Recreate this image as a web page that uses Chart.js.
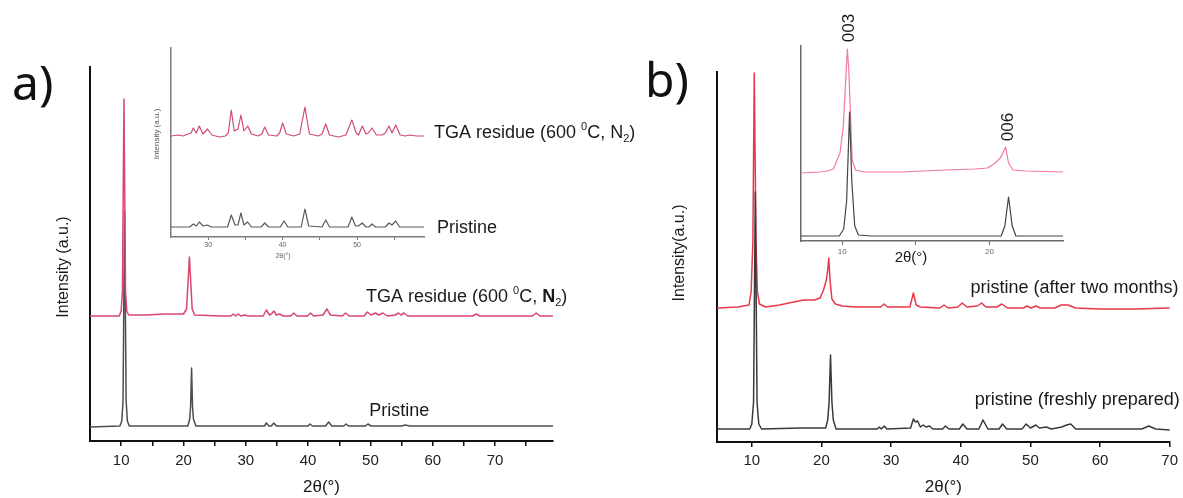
<!DOCTYPE html>
<html><head><meta charset="utf-8">
<script src="https://cdn.jsdelivr.net/npm/chart.js@4.4.1/dist/chart.umd.min.js"></script>
<style>
html,body{margin:0;padding:0;background:#fff;}
#wrap{position:relative;width:1183px;height:498px;overflow:hidden;background:#fff;}
canvas{position:absolute;left:0;top:0;}
</style></head><body>
<div id="wrap">
<canvas id="mainA" width="1183" height="498"></canvas>
<canvas id="mainB" width="1183" height="498"></canvas>
<canvas id="insetA" width="1183" height="498"></canvas>
<canvas id="insetB" width="1183" height="498"></canvas>
</div>
<script>
// ---------------- DATA (2θ in degrees, intensity in a.u., traces already offset) ----------------
// Panel a, main: TGA residue (red) and pristine (black)
const aTga = [[5,125],[9.7,125],[10.0,130],[10.2,150],[10.45,342],[10.7,150],[10.9,130],[11.2,126],[14,126],[17,127],[20,127],[20.5,132],[20.95,184],[21.4,132],[21.8,126],[26,125],[27.6,125],[28.0,127],[28.4,125],[28.8,127],[29.2,125],[29.8,126],[30.4,125],[32.8,125],[33.3,131],[33.8,126],[34.1,127],[34.5,130],[34.9,126],[35.4,127],[36,125],[37.2,125],[37.7,128],[38.2,125],[39.9,125],[40.4,128],[40.9,125],[42.4,126],[43.0,132],[43.6,126],[45.5,125],[46.0,128],[46.6,125],[49.0,125],[49.5,129],[50.1,126],[50.8,128],[51.3,126],[52.0,128],[52.7,125],[54.0,126],[54.5,128],[54.9,126],[55.4,128],[56.0,125],[60,125],[66.4,125],[67.0,127],[67.6,125],[76.0,125],[76.6,128],[77.2,125],[79.3,125]];
const aPristine = [[5,14],[9.8,15],[10.1,20],[10.3,40],[10.55,230],[10.8,40],[11.0,20],[11.3,15],[20.7,15],[21.0,22],[21.15,35],[21.3,73],[21.45,35],[21.6,22],[22,15],[29,15],[33,15],[33.3,18],[33.7,15],[34.1,15],[34.5,18],[34.9,15],[40,15],[40.3,17],[40.7,15],[42.8,15],[43.3,19],[43.8,15],[45.7,15],[46.1,17],[46.5,15],[49.2,15],[49.6,17],[50.1,15],[55,15],[55.6,16],[56.3,15],[79.3,15]];
const aTicks = [10,15,20,25,30,35,40,45,50,55,60,65,70,75];
const aTickLabels = [10,20,30,40,50,60,70];

// Panel a, inset (25-59°)
const iaTga = [[25,101],[26,102],[26.6,101],[27.3,103],[27.7,104],[28.0,109],[28.4,104],[28.8,111],[29.3,103],[29.9,108],[30.5,102],[31.5,100],[32.3,101],[32.7,104],[33.1,127],[33.5,106],[34.0,108],[34.4,122],[34.8,106],[35.3,111],[35.8,103],[36.7,101],[37.2,103],[37.6,110],[38.1,102],[39.2,101],[39.6,104],[40.0,114],[40.5,103],[41.5,101],[42.3,103],[43.0,130],[43.6,103],[44.8,101],[45.3,103],[45.8,113],[46.3,102],[47.5,100],[48.5,102],[49.3,117],[49.9,104],[50.2,102],[50.7,111],[51.2,103],[51.5,104],[52.0,109],[52.6,102],[53.4,102],[53.8,104],[54.3,111],[54.7,104],[55.2,112],[55.8,102],[56.5,101],[57,102],[58,101],[59,101]];
const iaPristine = [[25,10],[27.5,10],[28.0,13],[28.4,11],[28.8,15],[29.3,11],[29.9,12],[30.4,10],[32.6,10],[33.1,22],[33.6,12],[34.0,12],[34.4,24],[34.8,12],[35.3,15],[35.8,10],[37.1,10],[37.6,14],[38.1,10],[39.7,10],[40.2,16],[40.7,10],[42.5,10],[43.0,28],[43.5,11],[45.3,10],[45.8,17],[46.3,10],[48.8,10],[49.3,20],[49.8,11],[50.2,11],[50.7,14],[51.2,10],[51.6,10],[52.0,13],[52.5,10],[53.8,10],[54.3,14],[54.7,12],[55.2,16],[55.7,10],[59,10]];
const iaTicks = [30,35,40,45,50,55];
const iaTickLabels = [30,40,50];

// Panel b, main: after two months (red) and freshly prepared (black)
const bAged = [[5,134],[8,135],[9.6,137],[9.9,150],[10.15,200],[10.35,369],[10.6,200],[10.8,150],[11.1,138],[12,135],[14,137],[16,140],[17.5,142],[19,142],[19.8,144],[20.3,152],[20.7,162],[20.9,172],[21.05,184],[21.25,160],[21.5,143],[22,138],[23,136],[25,135],[28.5,135],[29,138],[29.5,135],[32.7,135],[33.2,149],[33.6,137],[34.2,135],[37,134],[37.6,137],[38.2,134],[39.6,135],[40.2,139],[40.9,135],[42.4,136],[43,139],[43.6,135],[45.2,135],[45.9,138],[46.7,134],[49,134],[49.5,136],[50.1,134],[50.8,136],[51.4,134],[53.5,134],[54.4,137],[55.4,137],[56.5,134],[60,133],[65,133],[70,134]];
const bFresh = [[5,13],[9.7,13],[10.0,18],[10.25,40],[10.5,250],[10.75,40],[11.0,18],[11.4,13],[17,14],[20.6,14],[20.9,22],[21.1,40],[21.3,87],[21.5,40],[21.7,22],[22.1,13],[28,13],[28.3,15],[28.6,13],[29,16],[29.4,13],[32.8,14],[33.2,23],[33.5,20],[33.8,21],[34.2,15],[34.6,17],[35,15],[35.5,16],[36,13],[37.4,13],[37.8,16],[38.3,13],[39.8,13],[40.3,18],[40.9,13],[42.6,13],[43.2,22],[43.9,13],[45.5,13],[46,18],[46.6,13],[48.8,13],[49.4,18],[50,14],[50.8,17],[51.3,14],[52.3,15],[53,13],[54.5,15],[55.2,17],[55.8,18],[56.5,13],[60,13],[66,13],[67,16],[68,13],[70,12]];
const bTicks = [10,20,30,40,50,60,70];
const bTickLabels = [10,20,30,40,50,60,70];

// Panel b, inset (003 and 006 reflections)
const ibAged = [[7.2,68],[8.5,69],[9.0,70],[9.4,72],[9.85,88],[10.07,114],[10.35,192],[10.45,170],[10.68,81],[10.9,71],[11.5,69],[14,69],[17,71],[19,72],[19.86,73],[20.3,77],[20.75,83],[21.1,94],[21.3,78],[21.6,71],[22.5,70],[25,69]];
const ibFresh = [[7.2,5],[9.8,5],[10.1,12],[10.3,40],[10.5,129],[10.65,60],[10.85,15],[11.1,6],[12,5],[20.8,5],[21.05,15],[21.3,44],[21.55,15],[21.8,5],[25,5]];
const ibTicks = [10,15,20];
const ibTickLabels = [10,20];

// ---------------- RENDERING ----------------
const FONT = "'Liberation Sans', Arial, Helvetica, sans-serif";
const W = 1183, H = 498;
const TGA_PARTS = [{t:'TGA residue (600 '},{t:'0',sup:true},{t:'C, '},{t:'N'},{t:'2',sub:true},{t:')'}];
const TGA_PARTS_MAIN = [{t:'TGA residue (600 '},{t:'0',sup:true},{t:'C, '},{t:'N',bold:true},{t:'2',sub:true},{t:')'}];

function toXY(pairs){ return pairs.map(p => ({x:p[0], y:p[1]})); }
function partFont(p, size, family){
  const s = (p.sup || p.sub) ? Math.round(size*0.62) : size;
  return (p.bold ? 'bold ' : '') + s + 'px ' + (family || FONT);
}
function drawRich(ctx, it){
  const size = it.size || 16;
  const parts = it.parts || [{t: it.text}];
  const widths = parts.map(p => { ctx.font = partFont(p, size, it.family); return ctx.measureText(p.t).width; });
  const total = widths.reduce((a,b)=>a+b, 0);
  let x = it.align === 'center' ? -total/2 : (it.align === 'right' ? -total : 0);
  ctx.fillStyle = it.color || '#1a1a1a';
  ctx.textBaseline = it.baseline || 'middle';
  ctx.textAlign = 'left';
  parts.forEach((p, i) => {
    ctx.font = partFont(p, size, it.family);
    const dy = p.sup ? -0.36*size : (p.sub ? 0.34*size : 0);
    ctx.fillText(p.t, x, dy);
    x += widths[i];
  });
}
function notesPlugin(items){
  return {
    id: 'notes',
    afterDraw(chart){
      const ctx = chart.ctx, xs = chart.scales.x, ys = chart.scales.y;
      items.forEach(it => {
        const px = it.dx !== undefined ? xs.getPixelForValue(it.dx) : it.px;
        const py = it.dy !== undefined ? ys.getPixelForValue(it.dy) : it.py;
        ctx.save();
        ctx.translate(px, py);
        if (it.rot) ctx.rotate(it.rot*Math.PI/180);
        drawRich(ctx, it);
        ctx.restore();
      });
    }
  };
}

function makeChart(id, c){
  return new Chart(document.getElementById(id), {
    type: 'line',
    data: { datasets: c.series.map(s => ({
      label: s.label, data: toXY(s.data), borderColor: s.color, borderWidth: s.width,
      pointRadius: 0, pointHoverRadius: 0, tension: 0, fill: false,
      borderJoinStyle: 'round', borderCapStyle: 'round'
    }))},
    options: {
      responsive: false, animation: false, devicePixelRatio: 1,
      events: [],
      layout: { padding: { left: c.area.left, top: c.area.top, right: W - c.area.right, bottom: 0 } },
      plugins: { legend: {display: false}, tooltip: {enabled: false} },
      scales: {
        x: {
          type: 'linear', min: c.xmin, max: c.xmax,
          afterBuildTicks: s => { s.ticks = c.ticks.map(v => ({value: v})); },
          afterFit: s => { s.height = H - c.area.bottom; },
          ticks: {
            autoSkip: false, maxRotation: 0, minRotation: 0,
            callback: v => c.tickLabels.includes(v) ? String(v) : '',
            font: {family: FONT, size: c.tickSize}, color: c.tickColor, padding: c.tickPad
          },
          grid: { display: true, drawOnChartArea: false, drawTicks: true, tickLength: c.tickLen,
                  color: c.axisColor, lineWidth: c.tickWidth },
          border: { display: true, color: c.axisColor, width: c.axisWidth },
          title: c.xTitle ? { display: true, text: c.xTitle, font: {family: FONT, size: 17},
                  color: '#1a1a1a', padding: {top: 0, bottom: 0} } : {display: false}
        },
        y: {
          type: 'linear', min: 0, max: c.ymax,
          afterFit: s => { s.width = 0; },
          ticks: {display: false}, grid: {display: false},
          border: { display: true, color: c.axisColor, width: c.axisWidth }
        }
      }
    },
    plugins: [notesPlugin(c.notes)]
  });
}

// Panel a main
makeChart('mainA', {
  area: {left: 90, top: 67, right: 553, bottom: 441},
  xmin: 5, xmax: 79.3, ymax: 374,
  ticks: aTicks, tickLabels: aTickLabels,
  tickSize: 15, tickColor: '#222', tickPad: 6, tickLen: 5, tickWidth: 1.5,
  axisColor: '#111', axisWidth: 2, xTitle: '2θ(°)',
  series: [
    {label: 'TGA residue (600 °C, N2)', data: aTga, color: '#d9476f', width: 1.5},
    {label: 'Pristine', data: aPristine, color: '#4d4d4d', width: 1.5}
  ],
  notes: [
    {px: 12, py: 100, text: 'a)', size: 48, family: "'Noto Sans', sans-serif", baseline: 'alphabetic', color: '#111'},
    {px: 64, py: 267, rot: -90, align: 'center', size: 16, text: 'Intensity (a.u.)'},
    {dx: 49.3, dy: 144, size: 18, parts: TGA_PARTS_MAIN},
    {dx: 49.8, dy: 30, size: 18, text: 'Pristine'}
  ]
});

// Panel b main
makeChart('mainB', {
  area: {left: 717, top: 72, right: 1174, bottom: 442},
  xmin: 5, xmax: 70, ymax: 370,
  ticks: bTicks, tickLabels: bTickLabels,
  tickSize: 15, tickColor: '#222', tickPad: 5, tickLen: 5, tickWidth: 1.5,
  axisColor: '#111', axisWidth: 2, xTitle: '2θ(°)',
  series: [
    {label: 'pristine (freshly prepared)', data: bFresh, color: '#3a3a3a', width: 1.5},
    {label: 'pristine (after two months)', data: bAged, color: '#e8374a', width: 1.5}
  ],
  notes: [
    {px: 645, py: 97, text: 'b)', size: 48, family: "'Noto Sans', sans-serif", baseline: 'alphabetic', color: '#111'},
    {px: 680, py: 253, rot: -90, align: 'center', size: 16, text: 'Intensity(a.u.)'},
    {dx: 41.4, dy: 154, size: 18, text: 'pristine (after two months)'},
    {dx: 42.0, dy: 42, size: 18, text: 'pristine (freshly prepared)'}
  ]
});

// Panel a inset
makeChart('insetA', {
  area: {left: 171, top: 48, right: 424, bottom: 237},
  xmin: 25, xmax: 59, ymax: 189,
  ticks: iaTicks, tickLabels: iaTickLabels,
  tickSize: 7, tickColor: '#666', tickPad: 1, tickLen: 3, tickWidth: 1,
  axisColor: '#7a7a7a', axisWidth: 1.5, xTitle: null,
  series: [
    {label: 'TGA residue (600 °C, N2)', data: iaTga, color: '#cf4d72', width: 1.2},
    {label: 'Pristine', data: iaPristine, color: '#5a5a5a', width: 1.2}
  ],
  notes: [
    {dx: 60.35, dy: 104, size: 18, parts: TGA_PARTS},
    {dx: 60.75, dy: 9, size: 18, text: 'Pristine'},
    {px: 283, py: 256, align: 'center', size: 7, color: '#666', text: '2θ(°)'},
    {px: 157, py: 134, rot: -90, align: 'center', size: 8, color: '#555', text: 'Intensity (a.u.)'}
  ]
});

// Panel b inset
makeChart('insetB', {
  area: {left: 801, top: 46, right: 1063, bottom: 241},
  xmin: 7.2, xmax: 25, ymax: 195,
  ticks: ibTicks, tickLabels: ibTickLabels,
  tickSize: 8, tickColor: '#666', tickPad: 2, tickLen: 4, tickWidth: 1,
  axisColor: '#6a6a6a', axisWidth: 1.5, xTitle: null,
  series: [
    {label: 'pristine (freshly prepared)', data: ibFresh, color: '#444', width: 1.2},
    {label: 'pristine (after two months)', data: ibAged, color: '#f27a96', width: 1.2}
  ],
  notes: [
    {dx: 10.45, dy: 213, rot: -90, align: 'center', size: 17, text: '003'},
    {dx: 21.3, dy: 114, rot: -90, align: 'center', size: 17, text: '006'},
    {px: 911, py: 258, align: 'center', size: 15, text: '2θ(°)'}
  ]
});
</script>
</body></html>
